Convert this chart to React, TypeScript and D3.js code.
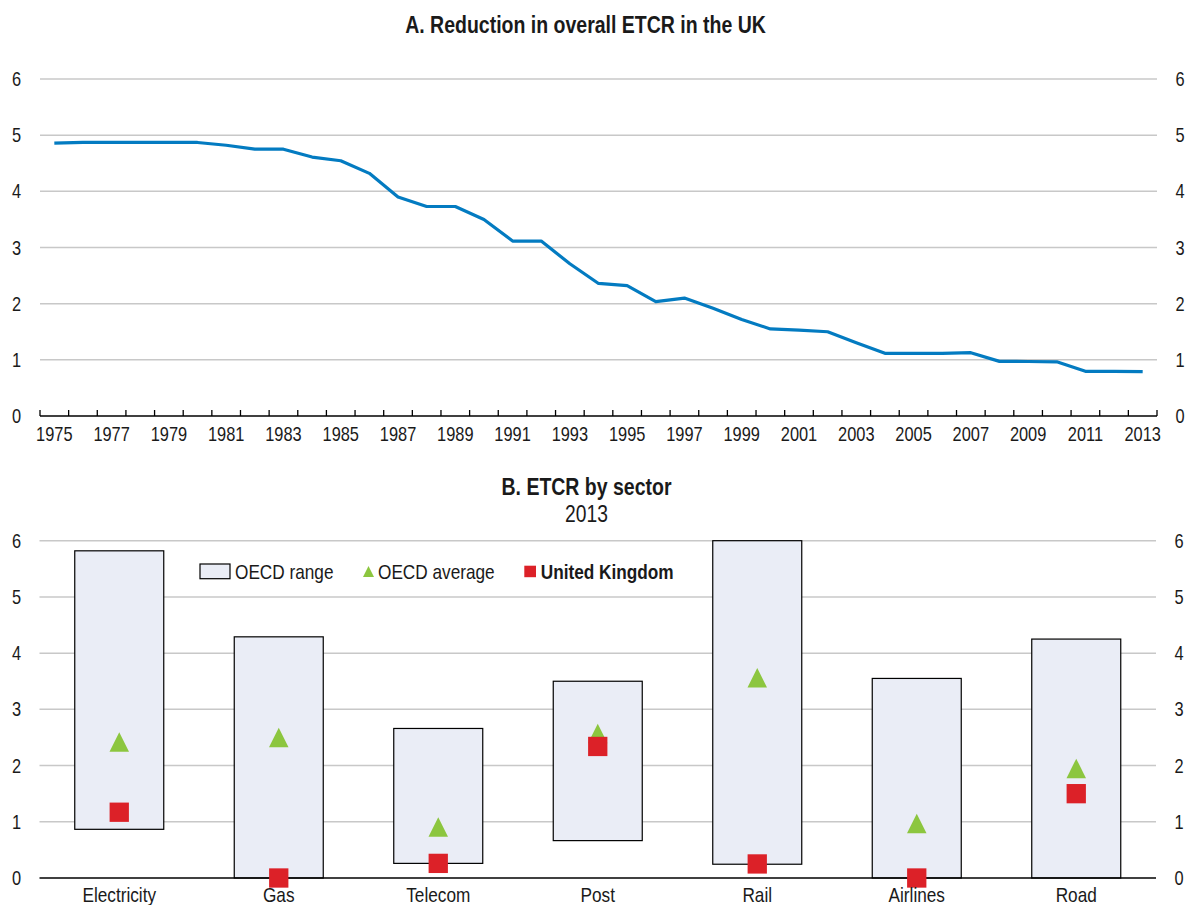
import React from "react";
import * as d3 from "d3";

const years: number[] = [];
for (let y = 1975; y <= 2013; y++) years.push(y);
const etcrValues = [
  4.86, 4.87, 4.87, 4.87, 4.87, 4.87, 4.82, 4.75, 4.75, 4.61,
  4.545, 4.32, 3.9, 3.73, 3.73, 3.5, 3.115, 3.115, 2.71, 2.36,
  2.32, 2.035, 2.1, 1.92, 1.72, 1.55, 1.53, 1.5, 1.305, 1.115,
  1.115, 1.115, 1.127, 0.973, 0.97, 0.965, 0.795, 0.795, 0.79,
];
const yearLabels = years.filter((y) => (y - 1975) % 2 === 0);
const yTicks = [0, 1, 2, 3, 4, 5, 6];

const sectors = ["Electricity", "Gas", "Telecom", "Post", "Rail", "Airlines", "Road"];
const rangeMin = [0.866, 0, 0.26, 0.665, 0.245, 0, 0];
const rangeMax = [5.82, 4.29, 2.66, 3.5, 6.0, 3.55, 4.25];
const oecdAvg = [2.42, 2.5, 0.905, 2.57, 3.56, 0.97, 1.95];
const ukValues = [1.17, 0, 0.26, 2.34, 0.25, 0, 1.5];

const FONT = "'Liberation Sans', Arial, sans-serif";
const TXT = "#1a1a1a";
const GRID = "#c8c8c8";
const BLUE = "#037bc1";
const BARFILL = "#eaedf6";
const GREEN = "#8cc63f";
const RED = "#dc2128";
const NARROW = 0.82;

type TProps = {
  x: number;
  y: number;
  size: number;
  anchor?: "start" | "middle" | "end";
  bold?: boolean;
  sx?: number;
  children: React.ReactNode;
};
function T({ x, y, size, anchor = "start", bold = false, sx = NARROW, children }: TProps) {
  return (
    <text
      transform={`translate(${x},${y}) scale(${sx},1)`}
      textAnchor={anchor}
      fontSize={size}
      fontWeight={bold ? "bold" : "normal"}
      fill={TXT}
    >
      {children}
    </text>
  );
}

export default function App() {
  const xTop = d3.scaleBand<number>().domain(years).range([40, 1157]);
  const yTop = d3.scaleLinear().domain([0, 6]).range([416, 79]);
  const line = d3
    .line<number>()
    .x((_, i) => (xTop(years[i]) as number) + xTop.bandwidth() / 2)
    .y((d) => yTop(d));

  const xB = d3.scaleBand<string>().domain(sectors).range([39.5, 1156]).paddingInner(0.442).paddingOuter(0.221);
  const yB = d3.scaleLinear().domain([0, 6]).range([878, 540.7]);
  const bw = xB.bandwidth();
  const cx = (s: string) => (xB(s) as number) + bw / 2;
  const tri = (x: number, y: number, w: number, h: number) =>
    `M${x},${y - h / 2}L${x + w / 2},${y + h / 2}L${x - w / 2},${y + h / 2}Z`;
  const sq = 19.3;

  return (
    <div style={{ position: "absolute", left: 0, top: 0 }}>
      <svg width={1188} height={905} style={{ display: "block", fontFamily: FONT }}>
        <rect x={0} y={0} width={1188} height={905} fill="#fff" />
        {/* Panel A */}
        <T x={585.5} y={33.3} size={23.5} anchor="middle" bold sx={0.83}>
          A. Reduction in overall ETCR in the UK
        </T>
        {yTicks.map((t) => (
          <g key={"ga" + t}>
            {t > 0 && <line x1={40} x2={1157} y1={yTop(t)} y2={yTop(t)} stroke={GRID} strokeWidth={1.5} />}
            <T x={16.5} y={yTop(t) + 7} size={20} anchor="middle">{t}</T>
            <T x={1180} y={yTop(t) + 7} size={20} anchor="middle">{t}</T>
          </g>
        ))}
        <path d={line(etcrValues) || ""} fill="none" stroke={BLUE} strokeWidth={3.2} strokeLinejoin="round" />
        <line x1={40} x2={1157} y1={yTop(0)} y2={yTop(0)} stroke="#000" strokeWidth={1.5} />
        {years.map((y) => (
          <line key={"tk" + y} x1={xTop(y) as number} x2={xTop(y) as number} y1={yTop(0)} y2={yTop(0) - 6} stroke="#000" strokeWidth={1.3} />
        ))}
        <line x1={1157} x2={1157} y1={yTop(0)} y2={yTop(0) - 6} stroke="#000" strokeWidth={1.3} />
        {yearLabels.map((y) => (
          <T key={"yl" + y} x={(xTop(y) as number) + xTop.bandwidth() / 2} y={441} size={20} anchor="middle">
            {y}
          </T>
        ))}

        {/* Panel B */}
        <T x={586.5} y={495} size={23.5} anchor="middle" bold sx={0.83}>
          B. ETCR by sector
        </T>
        <T x={586.5} y={522} size={23.5} anchor="middle">
          2013
        </T>
        {yTicks.map((t) => (
          <g key={"gb" + t}>
            {t > 0 && <line x1={39.5} x2={1156} y1={yB(t)} y2={yB(t)} stroke={GRID} strokeWidth={1.5} />}
            <T x={16.5} y={yB(t) + 7} size={20} anchor="middle">{t}</T>
            <T x={1179} y={yB(t) + 7} size={20} anchor="middle">{t}</T>
          </g>
        ))}
        {sectors.map((s, i) => (
          <rect key={"bar" + s} x={xB(s) as number} y={yB(rangeMax[i])} width={bw} height={yB(rangeMin[i]) - yB(rangeMax[i])}
            fill={BARFILL} stroke="#000" strokeWidth={1.2} />
        ))}
        <line x1={39.5} x2={1156} y1={yB(0)} y2={yB(0)} stroke="#000" strokeWidth={1.5} />
        {sectors.map((s, i) => (
          <path key={"tri" + s} d={tri(cx(s), yB(oecdAvg[i]), 19.5, 19.5)} fill={GREEN} />
        ))}
        {sectors.map((s, i) => (
          <rect key={"sq" + s} x={cx(s) - sq / 2} y={yB(ukValues[i]) - sq / 2} width={sq} height={sq} fill={RED} />
        ))}
        {sectors.map((s) => (
          <T key={"cl" + s} x={cx(s)} y={901.7} size={21} anchor="middle">{s}</T>
        ))}
        {/* Legend */}
        <rect x={200} y={564} width={30} height={14.7} fill={BARFILL} stroke="#000" strokeWidth={1.2} />
        <T x={235} y={578.5} size={21}>OECD range</T>
        <path d={tri(368.5, 571.5, 11, 11)} fill={GREEN} />
        <T x={378} y={578.5} size={21}>OECD average</T>
        <rect x={524.3} y={565.7} width={11.7} height={11.5} fill={RED} />
        <T x={540.7} y={578.5} size={21} bold>United Kingdom</T>
      </svg>
    </div>
  );
}
